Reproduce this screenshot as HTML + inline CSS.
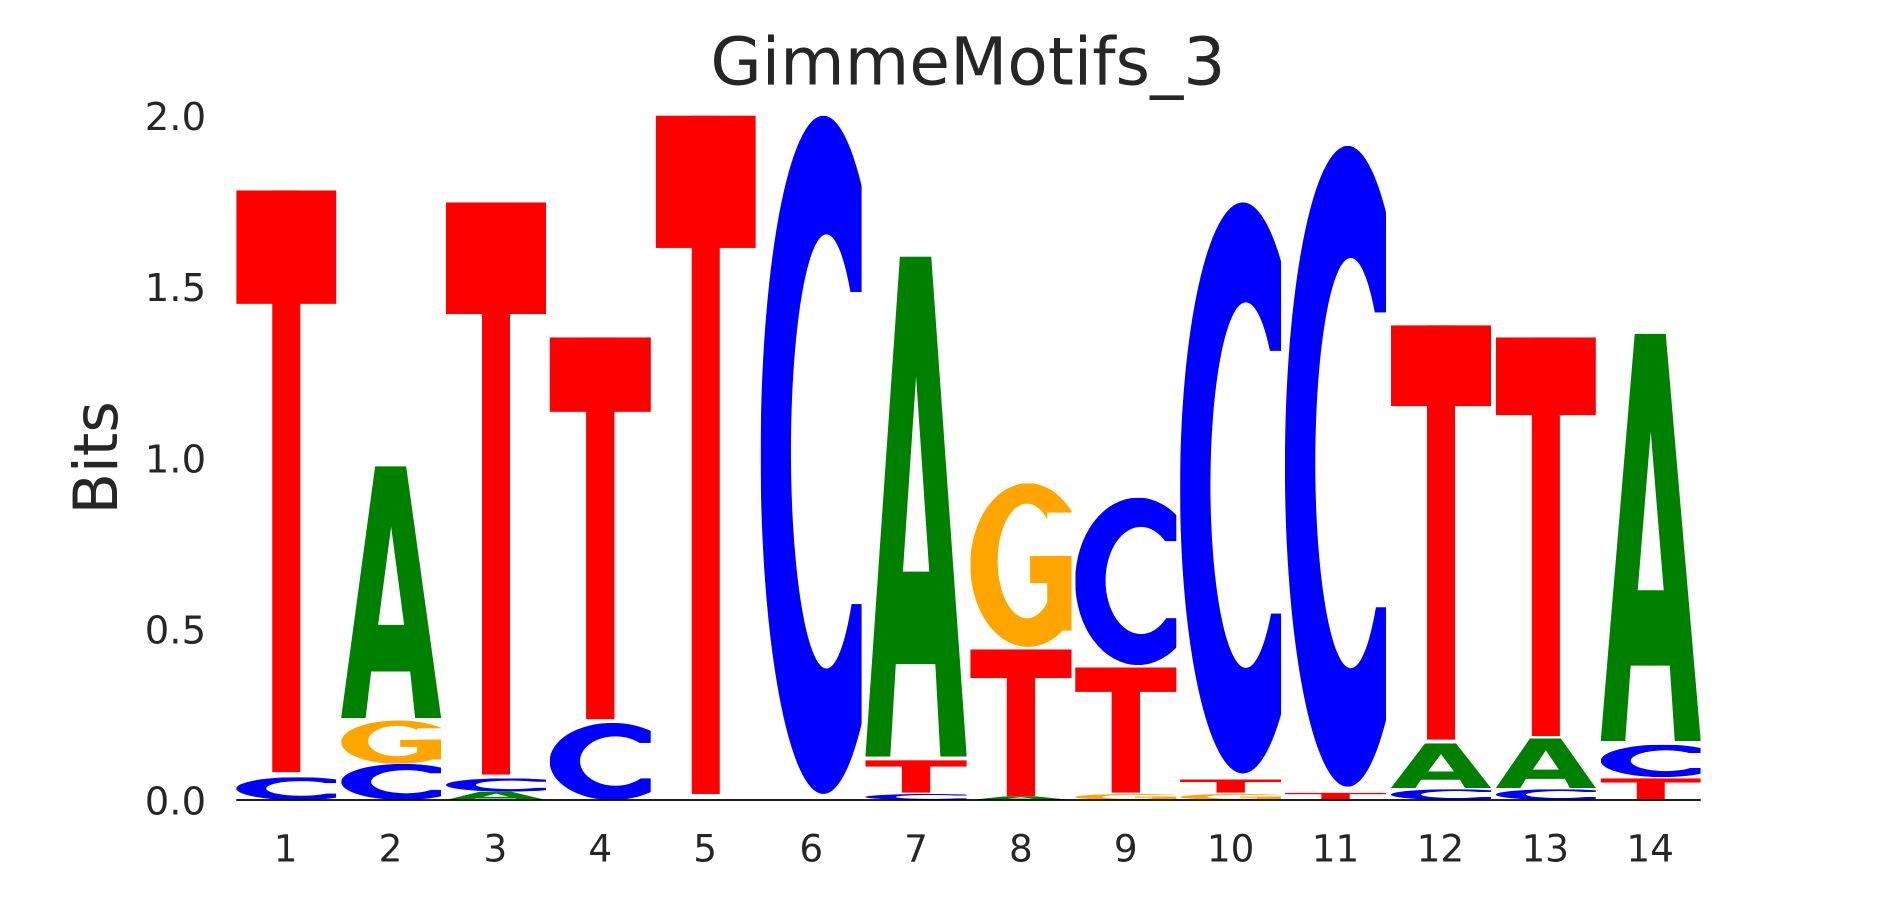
<!DOCTYPE html>
<html><head><meta charset="utf-8"><style>html,body{margin:0;padding:0;background:#fff;}svg{display:block}</style></head>
<body>
<svg width="1890" height="900" viewBox="0 0 1568 747" preserveAspectRatio="none" xmlns="http://www.w3.org/2000/svg">
<defs>
<mask id="mC" maskUnits="userSpaceOnUse" x="0" y="0" width="100" height="100">
  <ellipse cx="62" cy="50" rx="62" ry="50" fill="#fff"/>
  <ellipse cx="65" cy="49.5" rx="35" ry="32" fill="#000"/>
  <rect x="85" y="26" width="20" height="46" fill="#000"/>
</mask>
<mask id="mG" maskUnits="userSpaceOnUse" x="0" y="0" width="100" height="100">
  <ellipse cx="57" cy="50" rx="57" ry="50" fill="#fff"/>
  <ellipse cx="56" cy="47.5" rx="29" ry="35" fill="#000"/>
  <rect x="76" y="18" width="30" height="26.5" fill="#000"/>
  <rect x="59" y="44.5" width="45" height="16.5" fill="#fff"/>
  <rect x="76" y="44.5" width="30" height="45.5" fill="#fff"/>
</mask>
<symbol id="T" viewBox="0 0 100 100" preserveAspectRatio="none">
  <rect x="0" y="0" width="100" height="19.5" fill="currentColor"/>
  <rect x="36" y="0" width="28" height="100" fill="currentColor"/>
</symbol>
<symbol id="C" viewBox="0 0 100 100" preserveAspectRatio="none">
  <rect x="0" y="0" width="100" height="100" fill="currentColor" mask="url(#mC)"/>
</symbol>
<symbol id="G" viewBox="0 0 100 100" preserveAspectRatio="none">
  <rect x="0" y="0" width="100" height="100" fill="currentColor" mask="url(#mG)"/>
</symbol>
<symbol id="A" viewBox="0 0 100 100" preserveAspectRatio="none">
  <path fill="currentColor" fill-rule="evenodd" d="M0,100 L34,0 L65,0 L100,100 L74,100 L69,81.5 L30,81.5 L24.5,100 Z M50,24 L37,63 L63,63 Z"/>
</symbol>
</defs>

<text x="803" y="70" text-anchor="middle" font-family="DejaVu Sans, Liberation Sans, sans-serif" font-size="55" fill="#262626">GimmeMotifs_3</text>
<text transform="translate(97,380) rotate(-90)" text-anchor="middle" font-family="DejaVu Sans, Liberation Sans, sans-serif" font-size="50" fill="#262626">Bits</text>

<g font-family="DejaVu Sans, Liberation Sans, sans-serif" font-size="32" fill="#262626" text-anchor="end">
<text x="171" y="676">0.0</text>
<text x="171" y="534">0.5</text>
<text x="171" y="392">1.0</text>
<text x="171" y="250">1.5</text>
<text x="171" y="108">2.0</text>
</g>
<g font-family="DejaVu Sans, Liberation Sans, sans-serif" font-size="31" fill="#262626" text-anchor="middle">
<text x="237" y="715">1</text><text x="324" y="715">2</text><text x="411" y="715">3</text><text x="498" y="715">4</text>
<text x="585" y="715">5</text><text x="673" y="715">6</text><text x="760" y="715">7</text><text x="847" y="715">8</text>
<text x="934" y="715">9</text><text x="1021" y="715">10</text><text x="1108" y="715">11</text><text x="1195" y="715">12</text>
<text x="1282" y="715">13</text><text x="1369" y="715">14</text>
</g>

<use href="#C" x="196" y="645" width="83" height="19" style="color:#0000ff"/>
<use href="#T" x="196" y="158" width="83" height="483" style="color:#ff0000"/>
<use href="#C" x="283" y="634" width="83" height="30" style="color:#0000ff"/>
<use href="#G" x="283" y="598" width="83" height="36" style="color:#ffa500"/>
<use href="#A" x="283" y="387" width="83" height="209" style="color:#008000"/>
<use href="#A" x="370" y="657" width="83" height="7" style="color:#008000"/>
<use href="#C" x="370" y="646" width="83" height="11" style="color:#0000ff"/>
<use href="#T" x="370" y="168" width="83" height="475" style="color:#ff0000"/>
<use href="#C" x="456" y="600" width="84" height="64" style="color:#0000ff"/>
<use href="#T" x="456" y="280" width="84" height="317" style="color:#ff0000"/>
<use href="#T" x="544" y="96" width="83" height="563" style="color:#ff0000"/>
<use href="#C" x="631" y="96" width="84" height="563" style="color:#0000ff"/>
<use href="#C" x="718" y="659" width="84" height="5" style="color:#0000ff"/>
<use href="#T" x="718" y="631" width="84" height="27" style="color:#ff0000"/>
<use href="#A" x="718" y="213" width="84" height="415" style="color:#008000"/>
<use href="#A" x="805" y="661" width="84" height="3" style="color:#008000"/>
<use href="#T" x="805" y="539" width="84" height="122" style="color:#ff0000"/>
<use href="#G" x="805" y="401" width="84" height="136" style="color:#ffa500"/>
<use href="#G" x="892" y="659" width="84" height="5" style="color:#ffa500"/>
<use href="#T" x="892" y="554" width="84" height="104" style="color:#ff0000"/>
<use href="#C" x="892" y="413" width="84" height="139" style="color:#0000ff"/>
<use href="#G" x="979" y="659" width="84" height="5" style="color:#ffa500"/>
<use href="#T" x="979" y="647" width="84" height="11" style="color:#ff0000"/>
<use href="#C" x="979" y="168" width="84" height="474" style="color:#0000ff"/>
<use href="#T" x="1066" y="658" width="84" height="6" style="color:#ff0000"/>
<use href="#C" x="1066" y="121" width="84" height="532" style="color:#0000ff"/>
<use href="#C" x="1154" y="655" width="83" height="9" style="color:#0000ff"/>
<use href="#A" x="1154" y="617" width="83" height="37" style="color:#008000"/>
<use href="#T" x="1154" y="270" width="83" height="344" style="color:#ff0000"/>
<use href="#C" x="1241" y="655" width="83" height="9" style="color:#0000ff"/>
<use href="#A" x="1241" y="613" width="83" height="41" style="color:#008000"/>
<use href="#T" x="1241" y="280" width="83" height="331" style="color:#ff0000"/>
<use href="#T" x="1328" y="646" width="83" height="18" style="color:#ff0000"/>
<use href="#C" x="1328" y="618" width="83" height="27" style="color:#0000ff"/>
<use href="#A" x="1328" y="277" width="83" height="338" style="color:#008000"/>

<line x1="196" y1="664" x2="1411" y2="664" stroke="#000" stroke-width="1.5"/>
</svg>
</body></html>
